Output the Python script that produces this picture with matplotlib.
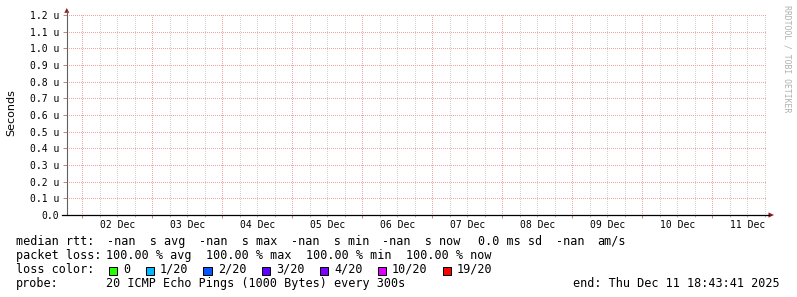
import numpy as np
import matplotlib
matplotlib.use('Agg')
import matplotlib.pyplot as plt
import matplotlib.dates as mdates
from matplotlib.lines import Line2D
from matplotlib.patches import Polygon, Rectangle
from datetime import datetime, timedelta

# data
end_time = datetime(2025, 12, 11, 18, 43, 41)
start_time = end_time - timedelta(days=10)
day_labels = ['02 Dec', '03 Dec', '04 Dec', '05 Dec', '06 Dec',
              '07 Dec', '08 Dec', '09 Dec', '10 Dec', '11 Dec']
day_dates = [datetime(2025, 12, d, 12) for d in range(2, 12)]
y_ticks = [0.0, 0.1e-6, 0.2e-6, 0.3e-6, 0.4e-6, 0.5e-6, 0.6e-6,
           0.7e-6, 0.8e-6, 0.9e-6, 1.0e-6, 1.1e-6, 1.2e-6]
y_tick_labels = ['0.0', '0.1 u', '0.2 u', '0.3 u', '0.4 u', '0.5 u', '0.6 u',
                 '0.7 u', '0.8 u', '0.9 u', '1.0 u', '1.1 u', '1.2 u']
packet_loss = [100.00, 100.00, 100.00, 100.00]   # avg, max, min, now
loss_labels = ['0', '1/20', '2/20', '3/20', '4/20', '10/20', '19/20']
loss_colors = ['#26ff00', '#00b8ff', '#0059ff', '#5e00ff', '#7e00ff', '#dd00ff', '#ff0000']

W, H = 797, 297
MONO = 'DejaVu Sans Mono'


def fx(x):
    return x / W


def fy(y):
    return 1 - y / H


fig = plt.figure(figsize=(W / 100, H / 100), dpi=100)
fig.patch.set_facecolor('white')
ax = fig.add_axes([fx(67), fy(215), 700 / W, 200 / H])
ax.set_facecolor('white')

ax.set_xlim(start_time, end_time)
ax.set_ylim(0, 1.2e-6)
for s in ax.spines.values():
    s.set_visible(False)

# 1 px dots every 2 px; offset half a pixel so dots sit on whole pixels
dots = (0.5, (1, 1))
ax.xaxis.set_major_locator(mdates.DayLocator())
ax.xaxis.set_minor_locator(mdates.HourLocator(byhour=[6, 12, 18]))
ax.xaxis.grid(True, which='major', color='#eba5a5', linestyle=dots, linewidth=0.72)
ax.xaxis.grid(True, which='minor', color='#d2d2d2', linestyle=dots, linewidth=0.72)
ax.set_yticks(y_ticks, labels=y_tick_labels)
ax.yaxis.grid(True, which='major', color='#eba5a5', linestyle=dots, linewidth=0.72)
ax.set_axisbelow(True)

ax.tick_params(axis='x', which='major', direction='out', length=2.2, width=0.72,
               color='#d08080', labelbottom=False)
ax.tick_params(axis='x', which='minor', direction='out', length=1.5, width=0.72,
               color='#b8b8b8', labelbottom=False)
ax.tick_params(axis='y', which='major', direction='out', length=2.9, width=0.72,
               color='#d08080', pad=2.9, labelsize=7, labelcolor='#000000')
for lab in ax.get_yticklabels():
    lab.set_family(MONO)

for d, lab in zip(day_dates, day_labels):
    ax.text(d, -0.065, lab, transform=ax.get_xaxis_transform(), ha='center',
            va='baseline', fontsize=7, family=MONO, color='black')

# axes lines and arrows
fig.add_artist(Line2D([fx(66.5), fx(66.5)], [fy(215), fy(11)], color='#606060', linewidth=0.8))
fig.add_artist(Line2D([fx(62), fx(769)], [fy(215), fy(215)], color='black', linewidth=0.9))
fig.add_artist(Polygon([[fx(66.8), fy(8)], [fx(64.3), fy(12.8)], [fx(69.3), fy(12.8)]],
                       closed=True, facecolor='#8e1c1c', edgecolor='none'))
fig.add_artist(Polygon([[fx(774), fy(215)], [fx(768.5), fy(212.4)], [fx(768.5), fy(217.6)]],
                       closed=True, facecolor='#8e1c1c', edgecolor='none'))

fig.text(fx(11), fy(113), 'Seconds', rotation=90, ha='center', va='center',
         fontsize=8, family='DejaVu Sans', color='black')
fig.text(fx(787), fy(5), 'RRDTOOL / TOBI OETIKER', rotation=270, ha='center', va='top',
         fontsize=5.9, family=MONO, color='#b0b0b0')

# legend
fs = 8.45
line1 = [('median rtt:', 16), ('-nan  s avg', 107), ('-nan  s max', 199),
         ('-nan  s min', 291), ('-nan  s now', 382), ('0.0 ms sd', 478),
         ('-nan', 556), ('am/s', 597)]
for t, x in line1:
    fig.text(fx(x), fy(245), t, ha='left', va='baseline', fontsize=fs, family=MONO)

fig.text(fx(16), fy(259), 'packet loss:', ha='left', va='baseline', fontsize=fs, family=MONO)
for v, name, x in zip(packet_loss, ['avg', 'max', 'min', 'now'], [106.5, 206.5, 306.5, 406.5]):
    fig.text(fx(x), fy(259), '%.2f %% %s' % (v, name), ha='left', va='baseline',
             fontsize=fs, family=MONO)

fig.text(fx(16), fy(273), 'loss color:', ha='left', va='baseline', fontsize=fs, family=MONO)
sw_x = [108.5, 145.5, 203.5, 261.5, 319.5, 377.5, 442.5]
for c, lab, x in zip(loss_colors, loss_labels, sw_x):
    fig.add_artist(Rectangle((fx(x), fy(275)), 8 / W, 8 / H, facecolor=c,
                             edgecolor='black', linewidth=0.72))
    fig.text(fx(x + 14.5), fy(273), lab, ha='left', va='baseline', fontsize=fs, family=MONO)

fig.text(fx(16), fy(287), 'probe:', ha='left', va='baseline', fontsize=fs, family=MONO)
fig.text(fx(106.5), fy(287), '20 ICMP Echo Pings (1000 Bytes) every 300s', ha='left',
         va='baseline', fontsize=fs, family=MONO)
fig.text(fx(780), fy(287), 'end: ' + end_time.strftime('%a %b %d %H:%M:%S %Y'), ha='right',
         va='baseline', fontsize=fs, family=MONO)

fig.savefig('out.png', dpi=100, facecolor='white')
